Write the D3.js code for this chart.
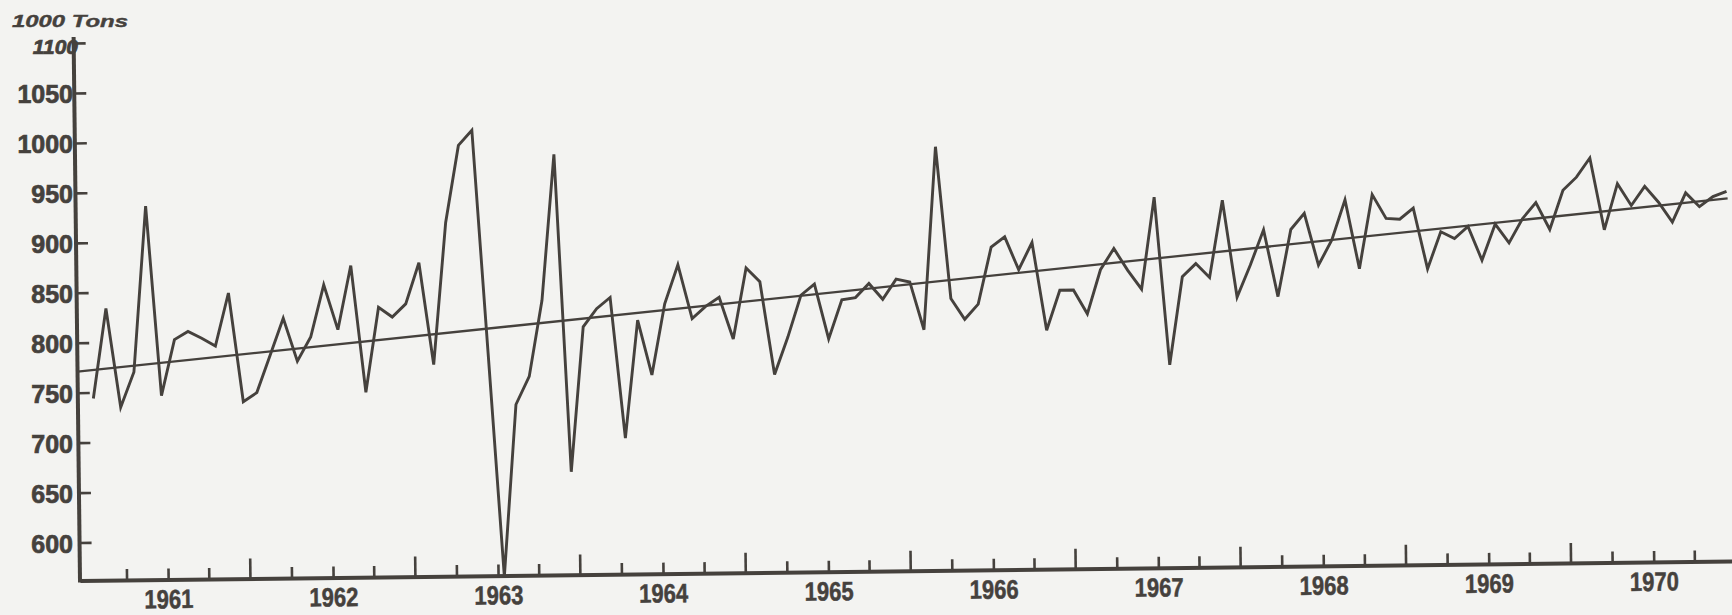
<!DOCTYPE html>
<html>
<head>
<meta charset="utf-8">
<script src="https://cdn.jsdelivr.net/npm/d3@7/dist/d3.min.js"></script>
<style>
  body { margin: 0; background: #f3f3f1; }
  svg { display: block; }
  text { font-family: "Liberation Sans", Arial, sans-serif; font-weight: bold; fill: #45413d; }
</style>
</head>
<body>
<div id="chart"></div>
<script>
// Monthly values, July 1960 to July 1970, in 1000 tons
var firstMonth = new Date(1960, 6, 1);
var values = [
  744, 834, 735, 770, 936, 746, 802, 810, 803, 795,
  848, 739, 748, 785, 822, 779, 803, 855, 810, 874,
  747, 832, 822, 835, 876, 774, 916, 993, 1008, 785,
  561, 733, 761, 837, 983, 665, 810, 828, 839, 698,
  816, 761, 832, 871, 817, 829, 838, 796, 867, 853,
  760, 797, 839, 850, 795, 834, 836, 850, 834, 854,
  851, 803, 986, 834, 813, 828, 885, 895, 862, 889,
  801, 841, 841, 817, 861, 882, 860, 841, 933, 765,
  853, 866, 852, 929, 832, 864, 899, 832, 899, 915,
  863, 888, 928, 859, 933, 909, 908, 919, 858, 895,
  888, 900, 866, 902, 883, 907, 923, 896, 935, 948,
  967, 895, 941, 919, 938, 922, 902, 931, 917, 927,
  932
];

// Trend line end points
var trendDates = [new Date(1960, 5, 20), new Date(1970, 5, 23)];
var trendValues = [771, 925];

// Axis labels
var yTicks = [600, 650, 700, 750, 800, 850, 900, 950, 1000, 1050, 1100];
var yearLabels = [1961, 1962, 1963, 1964, 1965, 1966, 1967, 1968, 1969, 1970];
var unitLabel = "1000 Tons";

var ink = "#45413d";

// Set SVG size and margins
var svgWidth = 1732;
var svgHeight = 615;
var margin = { top: 43, right: 0, bottom: 34.5, left: 80 };
var width = svgWidth - margin.left - margin.right;
var height = svgHeight - margin.top - margin.bottom;

var svg = d3.select("#chart")
  .append("svg")
  .attr("width", svgWidth)
  .attr("height", svgHeight);

// the scanned page is turned a little, so the chart is too
var chartGroup = svg.append("g")
  .attr("transform", `translate(${margin.left}, ${margin.top}) rotate(-0.676, 0, ${height})`);

// Calendar scale for the axis
var xScale = d3.scaleTime()
  .domain([new Date(1960, 5, 20), new Date(1970, 5, 23)])
  .range([0, width]);

var yScale = d3.scaleLinear()
  .domain([562, 1100])
  .range([height, 0]);

// The plotted months are spaced a touch tighter than the printed ticks
var monthKey = d3.timeFormat("%Y-%m");
var months = d3.timeMonth.range(firstMonth, d3.timeMonth.offset(firstMonth, values.length)).map(monthKey);
var xPoint = d3.scalePoint()
  .domain(months)
  .range([15.5, 1651]);

var data = months.map((m, i) => ({ month: m, value: values[i] }));

// Quarterly ticks on the time axis, July ones are longer
var quarters = d3.timeMonth.every(3).range(new Date(1960, 9, 1), new Date(1970, 6, 1));

var xAxis = chartGroup.append("g")
  .attr("transform", `translate(0, ${height})`)
  .call(d3.axisBottom(xScale).tickValues(quarters).tickSize(-11).tickSizeOuter(0).tickFormat(""));

xAxis.select(".domain")
  .attr("stroke", ink)
  .attr("stroke-width", 4);

xAxis.selectAll(".tick line")
  .attr("stroke", ink)
  .attr("stroke-width", 2.6)
  .attr("y2", d => d.getMonth() === 6 ? -20 : -11);

// Year labels
var yearAxis = chartGroup.append("g")
  .attr("transform", `translate(0, ${height})`)
  .call(d3.axisBottom(xScale)
    .tickValues(yearLabels.map(yr => new Date(yr, 0, 1)))
    .tickSize(0)
    .tickPadding(10)
    .tickFormat(d3.timeFormat("%Y")));

yearAxis.select(".domain").remove();
yearAxis.selectAll("text")
  .attr("font-size", 26.5)
  .attr("font-family", "Liberation Sans, Arial, sans-serif")
  .attr("font-weight", "bold")
  .attr("fill", ink)
  .attr("stroke", ink)
  .attr("stroke-width", 0.5)
  .attr("textLength", 49)
  .attr("lengthAdjust", "spacingAndGlyphs");

// Value axis ticks
var yAxis = chartGroup.append("g")
  .call(d3.axisLeft(yScale).tickValues(yTicks).tickSize(-12).tickSizeOuter(0).tickFormat(""));

yAxis.select(".domain").remove();
yAxis.selectAll(".tick line")
  .attr("stroke", ink)
  .attr("stroke-width", 2.6);

chartGroup.append("line")
  .attr("x1", 0)
  .attr("x2", 0)
  .attr("y1", yScale(562) + 2)
  .attr("y2", yScale(1106))
  .attr("stroke", ink)
  .attr("stroke-width", 4);

// Value labels sit straight on the page
var yLabels = svg.append("g")
  .attr("transform", `translate(73, ${margin.top})`)
  .call(d3.axisLeft(yScale).tickValues(yTicks).tickSize(0).tickPadding(0).tickFormat(d3.format("d")));

yLabels.select(".domain").remove();
yLabels.selectAll("text")
  .attr("font-size", 25)
  .attr("font-family", "Liberation Sans, Arial, sans-serif")
  .attr("font-weight", "bold")
  .attr("fill", ink)
  .attr("stroke", ink)
  .attr("stroke-width", 0.7)
  .attr("dy", "0.38em");

yLabels.selectAll(".tick")
  .filter(d => d === 1100)
  .select("text")
  .attr("font-size", 21)
  .attr("font-style", "italic")
  .attr("x", 5)
  .attr("dy", "0.5em");

// Trend line
var trendData = trendDates.map((d, i) => ({ date: d, value: trendValues[i] }));

chartGroup.append("path")
  .datum(trendData)
  .attr("d", d3.line().x(d => xScale(d.date)).y(d => yScale(d.value)))
  .attr("fill", "none")
  .attr("stroke", ink)
  .attr("stroke-width", 2.3);

// Monthly series
chartGroup.append("path")
  .datum(data)
  .attr("d", d3.line().x(d => xPoint(d.month)).y(d => yScale(d.value)))
  .attr("fill", "none")
  .attr("stroke", ink)
  .attr("stroke-width", 2.9)
  .attr("stroke-linejoin", "miter");

// Unit label
svg.append("text")
  .attr("x", 12)
  .attr("y", 26.5)
  .attr("font-size", 17)
  .attr("font-style", "italic")
  .attr("stroke", ink)
  .attr("stroke-width", 0.4)
  .attr("textLength", 116)
  .attr("lengthAdjust", "spacingAndGlyphs")
  .text(unitLabel);
</script>
</body>
</html>
